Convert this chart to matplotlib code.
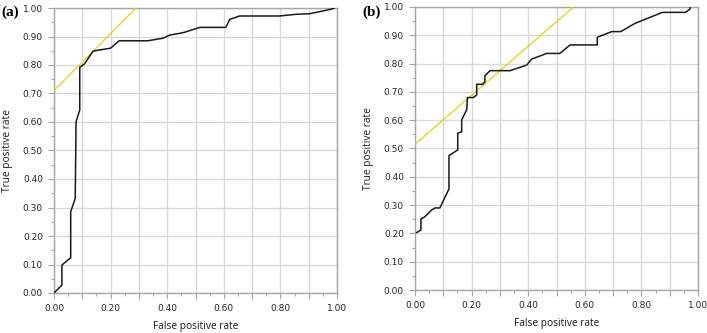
import matplotlib
matplotlib.use("Agg")
import matplotlib.pyplot as plt
from matplotlib.ticker import MultipleLocator, FuncFormatter

# ROC curve (a)
fpr_a = [0.0, 0.028, 0.028, 0.059, 0.059, 0.075, 0.078, 0.091, 0.091, 0.108, 0.138,
         0.200, 0.230, 0.332, 0.385, 0.409, 0.444, 0.462, 0.515, 0.607, 0.621, 0.656,
         0.797, 0.856, 0.904, 0.980, 0.99]
tpr_a = [0.0, 0.028, 0.098, 0.124, 0.285, 0.332, 0.601, 0.642, 0.792, 0.804, 0.849,
         0.859, 0.885, 0.885, 0.894, 0.905, 0.911, 0.915, 0.932, 0.932, 0.960, 0.972,
         0.972, 0.978, 0.980, 0.996, 1.0]
# tangent line (a)
line_a_x = [0.0, 0.29]
line_a_y = [0.71, 1.0]

# ROC curve (b)
fpr_b = [0.006, 0.021, 0.021, 0.035, 0.059, 0.071, 0.088, 0.104, 0.120, 0.120, 0.151,
         0.151, 0.165, 0.165, 0.183, 0.185, 0.206, 0.218, 0.218, 0.239, 0.247, 0.247,
         0.265, 0.336, 0.395, 0.412, 0.442, 0.465, 0.512, 0.548, 0.644, 0.644, 0.695,
         0.727, 0.777, 0.874, 0.956, 0.972, 0.972]
tpr_b = [0.203, 0.212, 0.251, 0.259, 0.283, 0.290, 0.290, 0.324, 0.357, 0.475, 0.495,
         0.554, 0.559, 0.601, 0.638, 0.680, 0.680, 0.689, 0.727, 0.727, 0.736, 0.757,
         0.775, 0.775, 0.795, 0.816, 0.827, 0.836, 0.836, 0.866, 0.866, 0.893, 0.913,
         0.913, 0.942, 0.981, 0.981, 0.993, 1.0]
# tangent line (b)
line_b_x = [0.0, 0.56]
line_b_y = [0.515, 1.0]

panel_labels = ["(a)", "(b)"]
xlabel = "False positive rate"
ylabel = "True positive rate"

fig = plt.figure(figsize=(7.07, 3.33), dpi=100)
ax_a = fig.add_axes([54 / 707, 40 / 333, 283 / 707, 285 / 333])
ax_b = fig.add_axes([415 / 707, 43 / 333, 283 / 707, 283 / 333])

spine_c = "#a6a6a6"
grid_c = "#d9d9d9"
yellow = "#e3d400"

def fmt_x(v, pos):
    i = int(round(v * 10))
    return f"{v:.2f}" if i % 2 == 0 else ""

for ax, fx, fy, lx, ly, lab in [(ax_a, fpr_a, tpr_a, line_a_x, line_a_y, panel_labels[0]),
                                (ax_b, fpr_b, tpr_b, line_b_x, line_b_y, panel_labels[1])]:
    ax.set_xlim(0, 1)
    ax.set_ylim(0, 1)
    ax.xaxis.set_major_locator(MultipleLocator(0.1))
    ax.xaxis.set_minor_locator(MultipleLocator(0.05))
    ax.yaxis.set_major_locator(MultipleLocator(0.1))
    ax.yaxis.set_minor_locator(MultipleLocator(0.05))
    ax.xaxis.set_major_formatter(FuncFormatter(fmt_x))
    ax.yaxis.set_major_formatter(FuncFormatter(lambda v, p: f"{v:.2f}"))
    ax.grid(True, which="major", color=grid_c, lw=1.0, zorder=0)
    ax.set_axisbelow(True)
    for s in ax.spines.values():
        s.set_color(spine_c)
        s.set_linewidth(1.0)
    ax.tick_params(which="major", direction="out", length=4, width=0.8, color=spine_c,
                   labelsize=6.5, labelcolor="#262626", pad=4)
    ax.tick_params(which="minor", direction="out", length=2, width=0.8, color=spine_c)
    ax.plot(lx, ly, color=yellow, lw=0.9, zorder=3)
    ax.plot(fx, fy, color="#1a1a1a", lw=1.1, zorder=4)
    ax.set_xlabel(xlabel, fontsize=7.3, family="Open Sans", color="#1a1a1a", labelpad=6)
    ax.set_ylabel(ylabel, fontsize=7.3, family="Open Sans", color="#1a1a1a", labelpad=7)
    for t in ax.get_xticklabels() + ax.get_yticklabels():
        t.set_family("DejaVu Sans")

fig.text(1 / 707, 1 - 16 / 333, panel_labels[0], fontsize=11, fontweight="bold",
         family="Liberation Serif")
fig.text(362 / 707, 1 - 16 / 333, panel_labels[1], fontsize=11, fontweight="bold",
         family="Liberation Serif")

fig.savefig("out.png", dpi=100)
